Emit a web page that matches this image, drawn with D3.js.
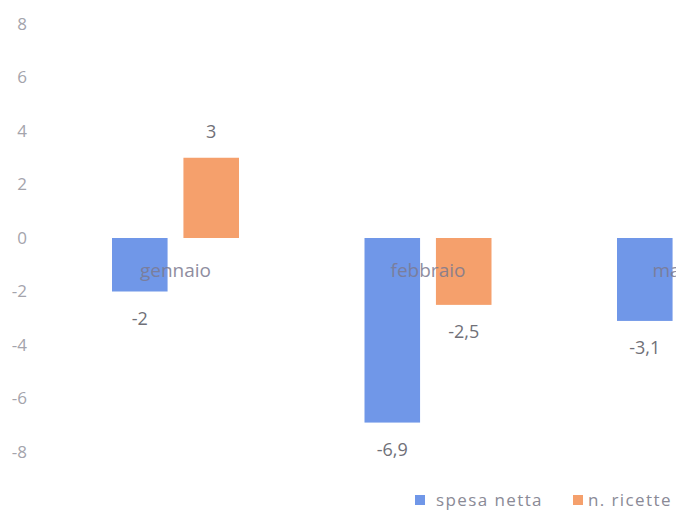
<!DOCTYPE html>
<html><head>
<meta charset="UTF-8">
<style>
  body { margin:0; background:#fff; }
  svg { display:block; font-family: 'Open Sans', 'Noto Sans', sans-serif; }
</style>
</head><body>
<svg id="chart" width="676" height="513"></svg>
<script src="https://cdn.jsdelivr.net/npm/d3@7/dist/d3.min.js"></script>
<script>
// dati (marzo n. ricette fuori inquadratura)
const months = ['gennaio', 'febbraio', 'marzo'];
const series = ['spesa netta', 'n. ricette'];
const spesaNetta = [-2, -6.9, -3.1];
const nRicette = [3, -2.5, null];
const yTicks = [-8, -6, -4, -2, 0, 2, 4, 6, 8];
const colors = ['#7097e8', '#f5a06c'];

const svg = d3.select('#chart');
const fmt = v => String(v).replace('.', ',');

const y = d3.scaleLinear().domain([-8, 8]).range([452, 24]);
const x0 = d3.scaleBand().domain(months).range([49.25, 49.25 + 3 * 252.5]).padding(0);
const x1 = d3.scaleBand().domain(series).range([62.75, 189.75]).paddingInner(0.222).paddingOuter(0);

// asse y (solo etichette)
const yAxis = svg.append('g').attr('transform', 'translate(27,0)')
  .call(d3.axisLeft(y).tickValues(yTicks).tickFormat(d => String(d)).tickSize(0).tickPadding(0));
yAxis.select('.domain').remove();
yAxis.selectAll('text').attr('fill', '#a4a4ac').style('font-size', '17px').style('font-family', "'Open Sans', sans-serif");

const rows = months.map((m, i) => ({ month: m, vals: [
  { s: series[0], v: spesaNetta[i] },
  { s: series[1], v: nRicette[i] }
].filter(d => d.v !== null) }));

const g = svg.selectAll('g.grp').data(rows).join('g').attr('class', 'grp')
  .attr('transform', d => `translate(${x0(d.month)},0)`);

g.selectAll('rect').data(d => d.vals).join('rect')
  .attr('x', d => x1(d.s))
  .attr('width', x1.bandwidth())
  .attr('y', d => y(Math.max(0, d.v)))
  .attr('height', d => Math.abs(y(d.v) - y(0)))
  .attr('fill', d => colors[series.indexOf(d.s)]);

g.selectAll('text.val').data(d => d.vals).join('text').attr('class', 'val')
  .attr('x', d => x1(d.s) + x1.bandwidth() / 2)
  .attr('y', d => d.v >= 0 ? y(d.v) - 26 : y(d.v) + 27)
  .attr('dy', '0.35em')
  .attr('text-anchor', 'middle')
  .attr('fill', '#707078')
  .style('font-size', '18px')
  .text(d => fmt(d.v));

// etichette categorie sopra le barre
svg.selectAll('text.cat').data(months).join('text').attr('class', 'cat')
  .attr('x', d => x0(d) + x0.bandwidth() / 2)
  .attr('y', y(0) + 32)
  .attr('dy', '0.35em')
  .attr('text-anchor', 'middle')
  .attr('fill', '#7c7a90')
  .attr('opacity', 0.85)
  .style('font-size', '19px')
  .text(d => d);

// legenda
const leg = svg.append('g').attr('transform', 'translate(415,500)');
const legX = [0, 158];
const legTextX = [21, 15];
series.forEach((s, i) => {
  leg.append('rect').attr('x', legX[i]).attr('y', -5).attr('width', 10).attr('height', 10).attr('fill', colors[i]);
  leg.append('text').attr('x', legX[i] + legTextX[i]).attr('y', 0).attr('dy', '0.35em')
    .attr('fill', '#8a8a96').style('font-size', '17px').style('letter-spacing', '1.4px').text(s);
});
</script>
</body></html>
